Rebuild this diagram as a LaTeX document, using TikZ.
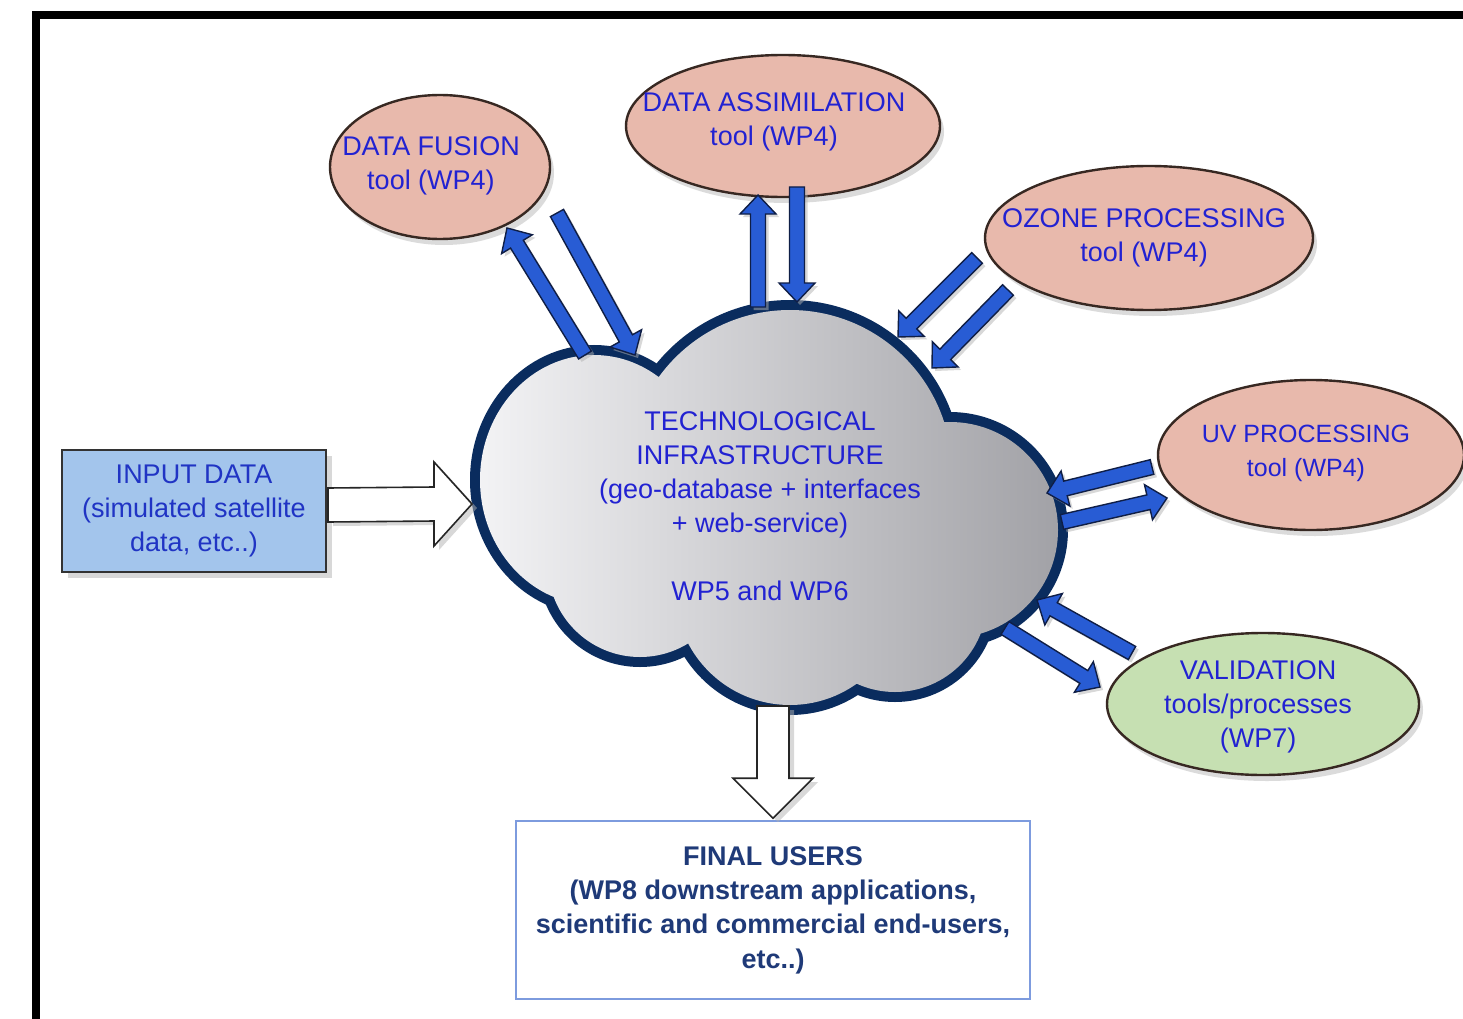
\documentclass[tikz,border=0pt]{standalone}
\usepackage{fontspec}
\setmainfont{Liberation Sans}
\usetikzlibrary{calc,shapes.geometric,shadows}
\definecolor{pinkf}{RGB}{232,185,172}
\definecolor{greenf}{RGB}{198,224,178}
\definecolor{boxblue}{RGB}{163,197,236}
\definecolor{txtblue}{RGB}{34,34,210}
\definecolor{inblue}{RGB}{32,52,196}
\definecolor{navytxt}{RGB}{31,58,120}
\definecolor{cloudline}{RGB}{10,44,94}
\definecolor{arrblue}{RGB}{40,92,212}
\definecolor{arredge}{RGB}{15,30,70}
\definecolor{ellline}{RGB}{55,40,34}
\definecolor{finalline}{RGB}{125,155,222}
\definecolor{cloudL}{RGB}{244,244,246}
\definecolor{cloudR}{RGB}{160,160,165}

\tikzset{
 tool/.style={ellipse, draw=ellline, line width=2.4pt, fill=pinkf, inner sep=0pt,
   drop shadow={shadow xshift=4pt, shadow yshift=-6pt, fill=gray!55}},
 tooltxt/.style={text=txtblue, align=center, font=\fontsize{27}{34}\selectfont, inner sep=0pt},
 blockarrow/.style={fill=arrblue, draw=arredge, line width=1.4pt, line join=miter,
   drop shadow={shadow xshift=3pt, shadow yshift=-3pt, fill=gray!60}},
 hollowarrow/.style={fill=white, draw=black!85, line width=1.6pt,
   drop shadow={shadow xshift=5pt, shadow yshift=-4pt, fill=gray!60}},
 inputbox/.style={rectangle, draw=black!80, line width=2pt, fill=boxblue, text=inblue,
   minimum width=264pt, minimum height=122pt, align=center, inner sep=0pt,
   font=\fontsize{27}{34}\selectfont,
   drop shadow={shadow xshift=6pt, shadow yshift=-6pt, fill=gray!60}},
 finalbox/.style={rectangle, draw=finalline, line width=1.6pt, fill=white, text=navytxt,
   minimum width=514pt, minimum height=178pt, align=center, inner sep=0pt,
   font=\fontsize{27}{34.3}\selectfont\bfseries},
 cloudrim/.style={draw=cloudline, line width=20pt},
}

\newcommand{\blockarr}[2]{%
  \coordinate (hb) at ($(#2)!19pt!(#1)$);
  \filldraw[blockarrow] ($(#1)!7.5pt!90:(#2)$) -- ($(hb)!7.5pt!90:(#2)$) -- ($(hb)!18pt!90:(#2)$)
    -- (#2) -- ($(hb)!18pt!-90:(#2)$) -- ($(hb)!7.5pt!-90:(#2)$) -- ($(#1)!7.5pt!-90:(#2)$) -- cycle;}

\begin{document}
\begin{tikzpicture}[x=1pt,y=-1pt]
\useasboundingbox (0,0) rectangle (1463,1019);
\fill[white] (0,0) rectangle (1463,1019);
% frame
\draw[line width=8pt] (36,1040) -- (36,15) -- (1480,15);

% tool ellipses
\node[tool, minimum width=220pt, minimum height=144pt] (fusion) at (440,167) {};
\node[tooltxt] (fusiontxt) at (431,166) {DATA FUSION\\tool (WP4)};
\node[tool, minimum width=314pt, minimum height=142pt] (assim) at (783,126) {};
\node[tooltxt] (assimtxt) at (774,122) {DATA ASSIMILATION\\tool (WP4)};
\node[tool, minimum width=328pt, minimum height=144pt] (ozone) at (1149,238) {};
\node[tooltxt] (ozonetxt) at (1144,238) {OZONE PROCESSING\\tool (WP4)};
\node[tool, minimum width=306pt, minimum height=150pt] (uv) at (1311,455) {};
\node[tooltxt, font=\fontsize{25}{34}\selectfont] (uvtxt) at (1306,453) {UV PROCESSING\\tool (WP4)};
\node[tool, fill=greenf, minimum width=312pt, minimum height=142pt] (valid) at (1263,704) {};
\node[tooltxt] (validtxt) at (1258,707) {VALIDATION\\tools/processes\\(WP7)};

% cloud
\coordinate (cloud) at (765,500);
\begin{scope}
  \draw[cloudrim] (594,480) ellipse (114 and 125);
  \draw[cloudrim] (790,472) circle (162);
  \draw[cloudrim] (950,530) circle (108);
  \draw[cloudrim] (895,600) circle (92);
  \draw[cloudrim] (790,590) circle (115);
  \draw[cloudrim] (640,565) circle (92);
\end{scope}
\begin{scope}
  \clip (594,480) ellipse (114 and 125) (790,472) circle (162)
        (950,530) circle (108) (895,600) circle (92) (790,590) circle (115)
        (640,565) circle (92) (770,510) ellipse (200 and 120);
  \shade[left color=cloudL, right color=cloudR] (470,290) rectangle (1070,720);
\end{scope}
\node[tooltxt] (cloudtxt) at (760,506) {TECHNOLOGICAL\\INFRASTRUCTURE\\(geo-database + interfaces\\+ web-service)\\[34pt]WP5 and WP6};

% input and final boxes
\node[inputbox] (input) at (194,511) {INPUT DATA\\(simulated satellite\\data, etc..)};
\node[finalbox] (final) at (773,910) {FINAL USERS\\(WP8 downstream applications,\\scientific and commercial end-users,\\etc..)};

% hollow arrows
\coordinate (inS) at ($(input.east)+(1,-6)$);
\coordinate (inT) at (472,504);
\filldraw[hollowarrow] ($(inS)+(0,-17)$) -- ($(inT)+(-38,-17)$) -- ($(inT)+(-38,-42)$) -- (inT)
  -- ($(inT)+(-38,42)$) -- ($(inT)+(-38,17)$) -- ($(inS)+(0,17)$) -- cycle;
\coordinate (dS) at (773,706);
\coordinate (dT) at ($(final.north)+(0,-2)$);
\filldraw[hollowarrow] ($(dS)+(-16,0)$) -- ($(dT)+(-16,-40)$) -- ($(dT)+(-40,-40)$) -- (dT)
  -- ($(dT)+(40,-40)$) -- ($(dT)+(16,-40)$) -- ($(dS)+(16,0)$) -- cycle;

% blue arrows
\coordinate (f1s) at (585,355); \coordinate (f1e) at (507,228);
\coordinate (f2s) at (557,213); \coordinate (f2e) at (635,355);
\coordinate (a1s) at (758,307); \coordinate (a1e) at (758,195);
\coordinate (a2s) at (797,187); \coordinate (a2e) at (797,302);
\coordinate (o1s) at (977,258); \coordinate (o1e) at (898,337);
\coordinate (o2s) at (1008,290); \coordinate (o2e) at (932,368);
\coordinate (u1s) at (1152,467); \coordinate (u1e) at (1047,493);
\coordinate (u2s) at (1062,522); \coordinate (u2e) at (1167,498);
\coordinate (v1s) at (1132,653); \coordinate (v1e) at (1037,600);
\coordinate (v2s) at (1005,628); \coordinate (v2e) at (1100,687);
\blockarr{f1s}{f1e}
\blockarr{f2s}{f2e}
\blockarr{a1s}{a1e}
\blockarr{a2s}{a2e}
\blockarr{o1s}{o1e}
\blockarr{o2s}{o2e}
\blockarr{u1s}{u1e}
\blockarr{u2s}{u2e}
\blockarr{v1s}{v1e}
\blockarr{v2s}{v2e}
\end{tikzpicture}
\end{document}
